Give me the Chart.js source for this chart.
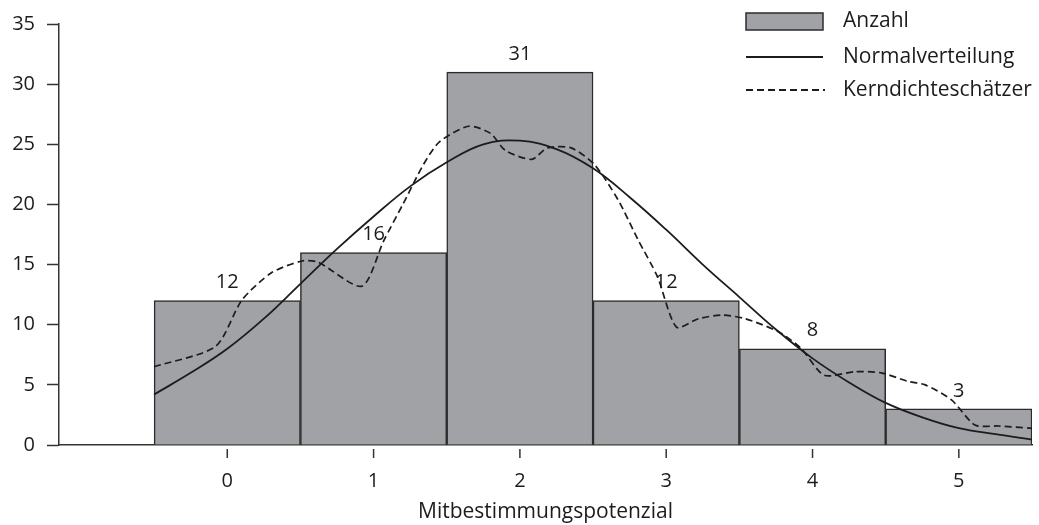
<!DOCTYPE html>
<html>
<head>
<meta charset="utf-8">
<script src="https://cdn.jsdelivr.net/npm/chart.js@4"></script>
<style>
  html, body { margin: 0; padding: 0; background: #fff; }
  #wrap { width: 1039px; height: 525px; }
</style>
</head>
<body>
<div id="wrap"><canvas id="chart"></canvas></div>
<script>
// values
const categories = [0, 1, 2, 3, 4, 5];
const counts = [12, 16, 31, 12, 8, 3];
const xTicks = [0, 1, 2, 3, 4, 5];
const yTicks = [0, 5, 10, 15, 20, 25, 30, 35];

const normalX = [-0.5, -0.25, 0, 0.25, 0.5, 0.75, 1, 1.25, 1.5, 1.75, 2, 2.25, 2.5, 2.75, 3, 3.25, 3.5, 3.75, 4, 4.25, 4.5, 4.75, 5, 5.25, 5.5];
const normalY = [4.2, 6.0, 8.0, 10.5, 13.4, 16.3, 19.0, 21.5, 23.5, 25.0, 25.3, 24.6, 23.0, 20.6, 17.9, 15.0, 12.3, 9.6, 7.2, 5.2, 3.5, 2.3, 1.4, 0.9, 0.45];

const kernelX = [-0.5, -0.08, 0.1, 0.3, 0.51, 0.62, 0.92, 1.07, 1.2, 1.34, 1.45, 1.65, 1.8, 1.9, 2.08, 2.19, 2.35, 2.51, 2.67, 2.81, 2.94, 3.07, 3.22, 3.38, 3.54, 3.77, 3.92, 4.08, 4.29, 4.47, 4.65, 4.77, 4.95, 5.11, 5.27, 5.5];
const kernelY = [6.5, 8.2, 12.05, 14.3, 15.3, 15.2, 13.2, 17.0, 20.0, 23.3, 25.2, 26.5, 25.9, 24.5, 23.75, 24.7, 24.7, 23.3, 20.4, 17.0, 14.0, 9.8, 10.5, 10.8, 10.5, 9.4, 8.05, 5.8, 6.1, 6.0, 5.3, 5.0, 3.75, 1.66, 1.58, 1.39];

const FONT = "'Open Sans', 'Noto Sans', sans-serif";
const INK = "#1c1c1c";
const BAR_FILL = "#a1a2a6";

const barLabels = {
  id: "barLabels",
  afterDatasetsDraw(chart) {
    const ctx = chart.ctx;
    const meta = chart.getDatasetMeta(0);
    ctx.save();
    ctx.font = "20px " + FONT;
    ctx.fillStyle = INK;
    ctx.textAlign = "center";
    ctx.textBaseline = "middle";
    meta.data.forEach((bar, i) => {
      ctx.fillText(String(counts[i]), bar.x, bar.y - 18);
    });
    ctx.restore();
  }
};

// little tick marks under the x axis, set off from the line
const xTickMarks = {
  id: "xTickMarks",
  afterDraw(chart) {
    const sx = chart.scales.x;
    const ctx = chart.ctx;
    ctx.save();
    ctx.strokeStyle = "#333";
    ctx.lineWidth = 1.5;
    sx.ticks.forEach((t, i) => {
      const px = sx.getPixelForTick(i);
      ctx.beginPath();
      ctx.moveTo(px, sx.top + 4);
      ctx.lineTo(px, sx.top + 13);
      ctx.stroke();
    });
    ctx.restore();
  }
};

const legendBox = {
  id: "legendBox",
  afterDraw(chart) {
    const ctx = chart.ctx;
    const x0 = 746, x1 = 823, tx = 843;
    ctx.save();
    ctx.font = "21px " + FONT;
    ctx.textBaseline = "middle";
    // Anzahl
    ctx.fillStyle = BAR_FILL;
    ctx.fillRect(x0, 13, x1 - x0, 17);
    ctx.strokeStyle = "#2b2b2b";
    ctx.lineWidth = 1.5;
    ctx.strokeRect(x0, 13, x1 - x0, 17);
    ctx.fillStyle = INK;
    ctx.fillText(chart.data.datasets[0].label, tx, 21);
    // Normalverteilung
    ctx.strokeStyle = INK;
    ctx.lineWidth = 1.8;
    ctx.beginPath();
    ctx.moveTo(x0, 57);
    ctx.lineTo(x1, 57);
    ctx.stroke();
    ctx.fillText(chart.data.datasets[1].label, tx, 57);
    // Kerndichteschätzer
    ctx.setLineDash([7, 4]);
    ctx.beginPath();
    ctx.moveTo(x0, 90);
    ctx.lineTo(x1 + 2, 90);
    ctx.stroke();
    ctx.setLineDash([]);
    ctx.fillText(chart.data.datasets[2].label, tx, 90);
    ctx.restore();
  }
};

const ctx = document.getElementById("chart").getContext("2d");
const chart = new Chart(ctx, {
  data: {
    datasets: [
      {
        type: "bar",
        label: "Anzahl",
        data: categories.map((c, i) => ({ x: c, y: counts[i] })),
        backgroundColor: BAR_FILL,
        borderColor: "#2b2b2b",
        borderWidth: 1.5,
        barPercentage: 1,
        categoryPercentage: 1,
        order: 3,
      },
      {
        type: "line",
        label: "Normalverteilung",
        data: normalX.map((x, i) => ({ x: x, y: normalY[i] })),
        borderColor: INK,
        borderWidth: 1.8,
        pointRadius: 0,
        tension: 0.4,
        fill: false,
        order: 1,
      },
      {
        type: "line",
        label: "Kerndichteschätzer",
        data: kernelX.map((x, i) => ({ x: x, y: kernelY[i] })),
        borderColor: INK,
        borderWidth: 1.7,
        borderDash: [7, 4],
        pointRadius: 0,
        tension: 0.25,
        fill: false,
        order: 2,
      },
    ],
  },
  options: {
    responsive: true,
    maintainAspectRatio: false,
    animation: false,
    layout: { padding: { left: 0, right: 7, top: 24, bottom: 0 } },
    scales: {
      x: {
        type: "linear",
        min: -1.15,
        max: 5.5,
        offset: false,
        afterBuildTicks: (s) => { s.ticks = xTicks.map((v) => ({ value: v })); },
        afterFit: (s) => { s.height = 80; },
        grid: { display: true, offset: false, drawOnChartArea: false, drawTicks: false },
        border: { display: true, color: "#333", width: 1.5 },
        ticks: { color: INK, font: { family: FONT, size: 20 }, padding: 24 },
        title: {
          display: true,
          text: "Mitbestimmungspotenzial",
          color: INK,
          font: { family: FONT, size: 21 },
          padding: { top: 0, bottom: 0 },
        },
      },
      y: {
        min: 0,
        max: 35,
        afterBuildTicks: (s) => { s.ticks = yTicks.map((v) => ({ value: v })); },
        afterFit: (s) => { s.width = 59; },
        grid: { drawOnChartArea: false, tickLength: 12, tickColor: "#333", tickWidth: 1.5 },
        border: { display: true, color: "#333", width: 1.5 },
        ticks: { color: INK, font: { family: FONT, size: 20 }, padding: 12 },
      },
    },
    plugins: {
      legend: { display: false },
      tooltip: { enabled: false },
    },
  },
  plugins: [barLabels, xTickMarks, legendBox],
});
</script>
</body>
</html>
